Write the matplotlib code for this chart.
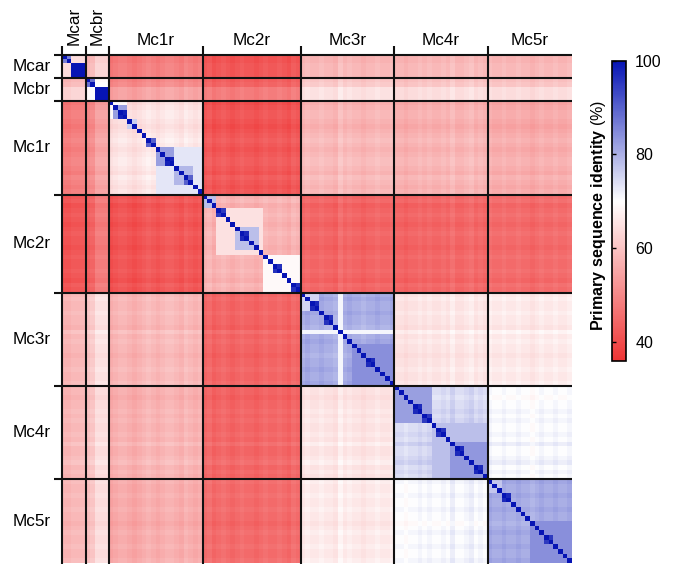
import numpy as np
import matplotlib
matplotlib.use("Agg")
import matplotlib.pyplot as plt
from matplotlib.colors import LinearSegmentedColormap

plt.rcParams['font.family'] = ['Liberation Sans', 'DejaVu Sans']
plt.rcParams['mathtext.fontset'] = 'custom'
plt.rcParams['mathtext.rm'] = 'Liberation Sans'
plt.rcParams['mathtext.bf'] = 'Liberation Sans:bold'

# Receptor groups and number of sequences in each
group_names = ['Mcar', 'Mcbr', 'Mc1r', 'Mc2r', 'Mc3r', 'Mc4r', 'Mc5r']
group_sizes = [5, 5, 20, 21, 20, 20, 18]

# Typical identity (%) between groups (diagonal = background within a group)
block_identity = [
    [63, 58, 47, 41, 57, 57, 57],
    [58, 66, 50, 44, 61, 60, 60],
    [47, 50, 64, 41, 57, 56, 55],
    [41, 44, 41, 57, 44, 44, 45],
    [57, 61, 57, 44, 80, 65, 66],
    [57, 60, 56, 44, 65, 74, 70],
    [57, 60, 55, 45, 66, 70, 80],
]

# Per-sequence shift (%) read from lighter / darker stripes
seq_shift = {
    'Mcar': [0, 0, 1, 1, 1],
    'Mcbr': [-1, 0, 4, 4, 4],
    'Mc1r': [-1, 0, 1, 1, 0, -1, 0, 1, 2, 1, 0, 1, 2, 2, 1, 0, 2, 1, 0, 1],
    'Mc2r': [0, 1, -1, 0, 1, 0, -1, 0, 1, 0, 0, -1, 0, 1, 0, 0, 1, 0, -1, 1, 0],
    'Mc3r': [0, 1, 0, 0, 1, 0, 0, -1, 2, 0, 1, 0, 0, -1, 0, 0, 1, 0, 0, 1],
    'Mc4r': [0, 0, -1, 0, 0, 1, 0, 1, 0, 0, 1, 0, 2, 0, 0, 1, 2, 0, 1, 0],
    'Mc5r': [1, 0, 0, 1, 0, 0, 1, 0, 0, -1, 0, 1, 0, 0, 1, 0, 0, 1],
}

# Sub-clusters inside a group: (group, first seq, last seq, identity %)
clusters = [
    ('Mcar', 0, 1, 86), ('Mcar', 2, 4, 100),
    ('Mcbr', 0, 1, 88), ('Mcbr', 2, 4, 100),
    ('Mc1r', 10, 19, 73), ('Mc1r', 0, 3, 69), ('Mc1r', 1, 3, 82),
    ('Mc1r', 2, 3, 98), ('Mc1r', 4, 5, 76), ('Mc1r', 8, 9, 90),
    ('Mc1r', 10, 13, 82), ('Mc1r', 12, 13, 98), ('Mc1r', 14, 17, 79),
    ('Mc1r', 16, 17, 90),
    ('Mc2r', 3, 12, 65), ('Mc2r', 13, 20, 69), ('Mc2r', 0, 2, 78),
    ('Mc2r', 3, 4, 95), ('Mc2r', 7, 11, 78), ('Mc2r', 8, 9, 97),
    ('Mc2r', 15, 16, 96), ('Mc2r', 19, 20, 96),
    ('Mc3r', 0, 3, 75), ('Mc3r', 11, 19, 84), ('Mc3r', 2, 3, 97),
    ('Mc3r', 5, 6, 96), ('Mc3r', 14, 15, 97),
    ('Mc4r', 0, 7, 82), ('Mc4r', 8, 19, 78), ('Mc4r', 12, 19, 83),
    ('Mc4r', 4, 5, 97), ('Mc4r', 6, 7, 95), ('Mc4r', 9, 10, 96),
    ('Mc4r', 13, 14, 97), ('Mc4r', 17, 18, 97),
    ('Mc5r', 0, 2, 77), ('Mc5r', 9, 17, 84), ('Mc5r', 3, 4, 97),
    ('Mc5r', 12, 13, 95),
]

# Divergent sequences inside their own group: (group, seq, identity %)
divergent = [('Mc3r', 8, 71)]

starts = np.concatenate([[0], np.cumsum(group_sizes)[:-1]])
n = int(np.sum(group_sizes))
gidx = {g: k for k, g in enumerate(group_names)}
shift = np.concatenate([seq_shift[g] for g in group_names]).astype(float)

M = np.zeros((n, n))
for a in range(len(group_names)):
    for b in range(len(group_names)):
        ra = slice(starts[a], starts[a] + group_sizes[a])
        rb = slice(starts[b], starts[b] + group_sizes[b])
        M[ra, rb] = block_identity[a][b] + shift[ra][:, None] + shift[rb][None, :]
for g, i0, i1, val in clusters:
    s = starts[gidx[g]]
    M[s + i0:s + i1 + 1, s + i0:s + i1 + 1] = val
for g, i, val in divergent:
    s = starts[gidx[g]]
    e = s + group_sizes[gidx[g]]
    M[s + i, s:e] = val
    M[s:e, s + i] = val
np.fill_diagonal(M, 100)
M = np.clip(M, 36, 100)

cmap = LinearSegmentedColormap.from_list(
    'rwb', [(0, '#ef3535'), ((70 - 36) / 64, '#ffffff'), (1, '#0614b4')])

fig = plt.figure(figsize=(6.76, 5.64), dpi=100)
ax = fig.add_axes([62.3 / 676, 1 - 563.5 / 564, 509.7 / 676, 509 / 564])
im = ax.imshow(M, cmap=cmap, vmin=36, vmax=100, interpolation='nearest',
               aspect='auto', extent=(0, n, n, 0))
ax.set_xlim(0, n)
ax.set_ylim(n, 0)
ax.axis('off')

ext = 1.8
for b in starts:
    ax.plot([b, b], [-ext, n], color='#111111', lw=1.5, clip_on=False,
            solid_capstyle='butt')
    ax.plot([-ext, n], [b, b], color='#111111', lw=1.5, clip_on=False,
            solid_capstyle='butt')

centers = starts + np.array(group_sizes) / 2
for name, c in zip(group_names, centers):
    if name in ('Mcar', 'Mcbr'):
        ax.text(c, -2.0, name, rotation=90, ha='center', va='bottom',
                fontsize=12.3)
    else:
        ax.text(c, -2.0, name, ha='center', va='baseline', fontsize=12.3)
    ax.text(-2.4, c, name, ha='right', va='center', fontsize=12.3)

cax = fig.add_axes([612 / 676, 1 - 360.7 / 564, 13.5 / 676, 300 / 564])
cb = fig.colorbar(im, cax=cax, ticks=[40, 60, 80, 100])
cb.outline.set_linewidth(1.2)
cax.tick_params(direction='in', length=3, width=1, labelsize=11.5, pad=7,
                left=True, right=False, labelleft=False, labelright=True)
fig.text(598 / 676, 1 - 215.5 / 564,
         r'$\mathbf{Primary\ sequence\ identity}$ (%)',
         rotation=90, ha='center', va='center', fontsize=11.5)

fig.savefig('out.png', dpi=100)
